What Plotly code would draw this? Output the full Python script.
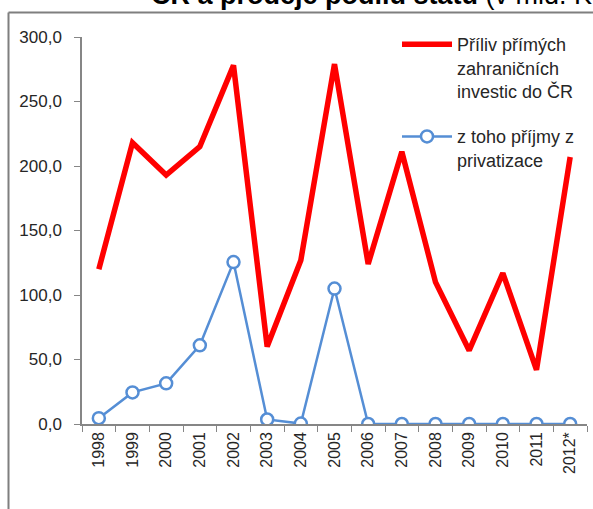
import plotly.graph_objects as go

years = ["1998", "1999", "2000", "2001", "2002", "2003", "2004", "2005",
         "2006", "2007", "2008", "2009", "2010", "2011", "2012*"]
fdi_inflow = [120, 218, 193, 215, 278, 60, 127, 279, 124, 211, 110, 57, 117, 42, 207]
privatization = [4.5, 24.5, 31.5, 61, 125.5, 3.5, 0.3, 105, 0, 0, 0, 0, 0, 0, 0]

name_fdi = "Příliv přímých<br>zahraničních<br>investic do ČR"
name_priv = "z toho příjmy z<br>privatizace"
title_text = "<b>ČR a prodeje podílu státu</b> (v mld. Kč)"

FONT = "Liberation Sans, Arial, sans-serif"

fig = go.Figure()
fig.add_trace(go.Scatter(
    x=years, y=fdi_inflow, mode="lines", name=name_fdi,
    line=dict(color="#ff0000", width=5.5), legendgroup="a",
))
fig.add_trace(go.Scatter(
    x=years, y=privatization, mode="lines+markers", name=name_priv,
    line=dict(color="#558ed5", width=2.5),
    marker=dict(symbol="circle", size=12, color="white",
                line=dict(color="#558ed5", width=2.5)),
    legendgroup="b",
))

# plot area geometry (pixels) for paper-coordinate conversion
L, R, T, B = 82, 587, 37, 424
W, H = R - L, B - T
def px(x):
    return (x - L) / W
def py(y):
    return (B - y) / H

fig.update_layout(
    width=593, height=509,
    margin=dict(l=L, r=593 - R, t=T, b=509 - B, autoexpand=False),
    paper_bgcolor="white", plot_bgcolor="white",
    separators=", ",
    font=dict(family=FONT, size=17, color="#262626"),
    showlegend=True,
    legend=dict(
        x=px(397), y=py(26), xanchor="left", yanchor="top",
        font=dict(size=18, color="#262626"),
        bgcolor="rgba(0,0,0,0)", tracegroupgap=19, valign="top",
        itemwidth=50,
    ),
    xaxis=dict(
        type="category", range=[-0.5, 14.5],
        showline=True, linecolor="#868686", linewidth=1.5,
        ticks="outside", tickson="boundaries", ticklen=6, tickcolor="#868686",
        tickangle=-90, showgrid=False, zeroline=False,
        tickfont=dict(size=16, color="#262626"),
    ),
    yaxis=dict(
        range=[0, 300], dtick=50, tick0=0, tickformat=".1f",
        showline=True, linecolor="#868686", linewidth=1.5,
        ticks="outside", ticklen=6, tickcolor="#868686",
        showgrid=False, zeroline=False,
        tickfont=dict(size=17, color="#262626"),
        ticklabelstandoff=9,
    ),
    shapes=[
        dict(type="line", xref="paper", yref="paper",
             x0=px(8.5), x1=px(8.5), y0=py(12.5), y1=py(530),
             line=dict(color="#7f7f7f", width=2)),
        dict(type="line", xref="paper", yref="paper",
             x0=px(8.5), x1=px(610), y0=py(12.5), y1=py(12.5),
             line=dict(color="#7f7f7f", width=2)),
    ],
    annotations=[
        dict(text=title_text, xref="paper", yref="paper",
             x=px(149), y=py(12.5), xanchor="left", yanchor="bottom",
             showarrow=False, font=dict(size=27, color="#000000")),
    ],
)

fig.write_html("out.html", config={"displayModeBar": False},
               post_script="document.body.style.margin='0';")
